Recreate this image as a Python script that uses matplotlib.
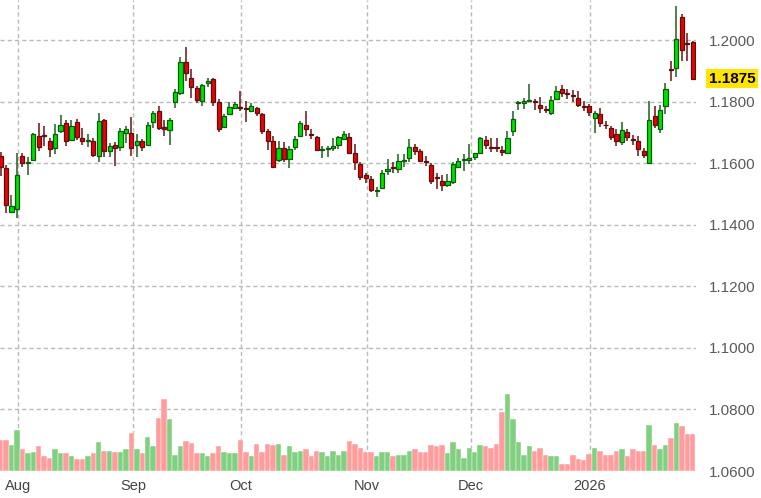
import matplotlib
matplotlib.use('Agg')
import matplotlib.pyplot as plt
import numpy as np

plt.rcParams['font.family'] = ['Liberation Sans', 'DejaVu Sans']

# daily candles (oldest first)
opens = [1.1625, 1.1585, 1.1442, 1.1452, 1.1625, 1.1600, 1.1611, 1.1690, 1.1693, 1.1671,
         1.1650, 1.1706, 1.1730, 1.1676, 1.1735, 1.1682, 1.1672, 1.1671, 1.1625, 1.1741,
         1.1639, 1.1660, 1.1652, 1.1697, 1.1697, 1.1660, 1.1671, 1.1660, 1.1733, 1.1771,
         1.1718, 1.1708, 1.1798, 1.1830, 1.1928, 1.1877, 1.1845, 1.1803, 1.1862, 1.1874,
         1.1798, 1.1719, 1.1760, 1.1780, 1.1782, 1.1780, 1.1769, 1.1780, 1.1760, 1.1706,
         1.1671, 1.1611, 1.1650, 1.1614, 1.1652, 1.1690, 1.1725, 1.1694, 1.1684, 1.1644,
         1.1645, 1.1650, 1.1660, 1.1679, 1.1686, 1.1632, 1.1598, 1.1563, 1.1549, 1.1509,
         1.1519, 1.1574, 1.1588, 1.1581, 1.1607, 1.1617, 1.1654, 1.1641, 1.1608, 1.1595,
         1.1556, 1.1543, 1.1530, 1.1538, 1.1587, 1.1610, 1.1612, 1.1619, 1.1635, 1.1676,
         1.1652, 1.1652, 1.1643, 1.1632, 1.1704, 1.1795, 1.1796, 1.1803, 1.1803, 1.1790,
         1.1775, 1.1765, 1.1809, 1.1841, 1.1829, 1.1822, 1.1813, 1.1786, 1.1786, 1.1746,
         1.1759, 1.1726, 1.1715, 1.1694, 1.1670, 1.1702, 1.1680, 1.1674, 1.1639, 1.1601,
         1.1753, 1.1713, 1.1786, 1.1906, 1.1911, 1.2076, 1.1990, 1.1993]
highs = [1.1638, 1.1595, 1.1498, 1.1632, 1.1632, 1.1619, 1.1700, 1.1730, 1.1720, 1.1682,
         1.1728, 1.1757, 1.1741, 1.1741, 1.1744, 1.1716, 1.1695, 1.1682, 1.1762, 1.1744,
         1.1667, 1.1668, 1.1716, 1.1722, 1.1749, 1.1695, 1.1679, 1.1733, 1.1769, 1.1787,
         1.1740, 1.1747, 1.1841, 1.1944, 1.1979, 1.1906, 1.1852, 1.1857, 1.1876, 1.1877,
         1.1810, 1.1761, 1.1798, 1.1798, 1.1834, 1.1803, 1.1797, 1.1782, 1.1765, 1.1711,
         1.1690, 1.1671, 1.1668, 1.1657, 1.1690, 1.1736, 1.1769, 1.1711, 1.1690, 1.1657,
         1.1655, 1.1681, 1.1690, 1.1706, 1.1700, 1.1664, 1.1603, 1.1570, 1.1560, 1.1522,
         1.1578, 1.1614, 1.1603, 1.1630, 1.1630, 1.1679, 1.1664, 1.1646, 1.1624, 1.1600,
         1.1567, 1.1562, 1.1565, 1.1603, 1.1617, 1.1630, 1.1664, 1.1635, 1.1687, 1.1690,
         1.1681, 1.1681, 1.1657, 1.1706, 1.1769, 1.1803, 1.1811, 1.1859, 1.1808, 1.1816,
         1.1787, 1.1820, 1.1852, 1.1855, 1.1841, 1.1838, 1.1835, 1.1802, 1.1793, 1.1770,
         1.1780, 1.1737, 1.1721, 1.1710, 1.1735, 1.1710, 1.1691, 1.1688, 1.1650, 1.1802,
         1.1786, 1.1789, 1.1862, 1.1933, 1.2112, 1.2085, 1.2022, 1.1998]
lows = [1.1560, 1.1437, 1.1437, 1.1423, 1.1587, 1.1563, 1.1608, 1.1641, 1.1655, 1.1619,
        1.1630, 1.1700, 1.1657, 1.1671, 1.1676, 1.1660, 1.1652, 1.1619, 1.1603, 1.1619,
        1.1619, 1.1592, 1.1641, 1.1665, 1.1625, 1.1622, 1.1639, 1.1657, 1.1715, 1.1708,
        1.1690, 1.1660, 1.1780, 1.1823, 1.1868, 1.1812, 1.1797, 1.1786, 1.1847, 1.1787,
        1.1701, 1.1716, 1.1758, 1.1777, 1.1770, 1.1733, 1.1766, 1.1753, 1.1695, 1.1643,
        1.1584, 1.1603, 1.1603, 1.1585, 1.1643, 1.1686, 1.1690, 1.1680, 1.1640, 1.1617,
        1.1619, 1.1641, 1.1645, 1.1676, 1.1630, 1.1578, 1.1545, 1.1535, 1.1506, 1.1491,
        1.1516, 1.1563, 1.1567, 1.1570, 1.1589, 1.1603, 1.1626, 1.1603, 1.1592, 1.1532,
        1.1516, 1.1510, 1.1522, 1.1532, 1.1584, 1.1576, 1.1598, 1.1612, 1.1632, 1.1647,
        1.1638, 1.1638, 1.1624, 1.1629, 1.1690, 1.1773, 1.1777, 1.1798, 1.1773, 1.1762,
        1.1762, 1.1757, 1.1806, 1.1816, 1.1809, 1.1798, 1.1783, 1.1770, 1.1753, 1.1699,
        1.1717, 1.1710, 1.1677, 1.1656, 1.1659, 1.1672, 1.1661, 1.1623, 1.1617, 1.1601,
        1.1715, 1.1699, 1.1759, 1.1866, 1.1879, 1.1931, 1.1931, 1.1875]
closes = [1.1589, 1.1465, 1.1460, 1.1563, 1.1600, 1.1605, 1.1695, 1.1652, 1.1690, 1.1646,
          1.1695, 1.1724, 1.1671, 1.1722, 1.1684, 1.1671, 1.1675, 1.1628, 1.1737, 1.1639,
          1.1657, 1.1650, 1.1706, 1.1712, 1.1650, 1.1671, 1.1654, 1.1725, 1.1765, 1.1715,
          1.1713, 1.1741, 1.1833, 1.1930, 1.1895, 1.1847, 1.1807, 1.1854, 1.1866, 1.1798,
          1.1712, 1.1755, 1.1782, 1.1793, 1.1779, 1.1778, 1.1787, 1.1762, 1.1706, 1.1671,
          1.1589, 1.1650, 1.1614, 1.1646, 1.1679, 1.1730, 1.1711, 1.1691, 1.1643, 1.1646,
          1.1650, 1.1657, 1.1684, 1.1695, 1.1632, 1.1603, 1.1556, 1.1552, 1.1513, 1.1512,
          1.1570, 1.1583, 1.1585, 1.1606, 1.1611, 1.1654, 1.1641, 1.1606, 1.1605, 1.1541,
          1.1553, 1.1530, 1.1541, 1.1598, 1.1606, 1.1614, 1.1617, 1.1632, 1.1682, 1.1660,
          1.1650, 1.1649, 1.1636, 1.1682, 1.1744, 1.1798, 1.1801, 1.1806, 1.1799, 1.1780,
          1.1773, 1.1806, 1.1836, 1.1827, 1.1826, 1.1819, 1.1790, 1.1783, 1.1768, 1.1764,
          1.1732, 1.1723, 1.1685, 1.1674, 1.1707, 1.1685, 1.1677, 1.1648, 1.1626, 1.1742,
          1.1724, 1.1772, 1.1840, 1.1903, 1.2003, 1.1968, 1.1987, 1.1875]
volumes = [94, 94, 77, 124, 65, 54, 57, 74, 44, 40, 65, 54, 54, 44, 37, 37, 44, 54, 86, 61,
           61, 57, 57, 65, 114, 65, 54, 102, 74, 160, 217, 155, 48, 74, 90, 84, 54, 54, 44, 54,
           74, 57, 54, 54, 94, 57, 44, 82, 57, 82, 77, 82, 48, 74, 57, 61, 65, 44, 61, 57,
           44, 61, 48, 61, 90, 82, 69, 57, 57, 44, 57, 57, 44, 48, 48, 61, 65, 57, 57, 77,
           74, 77, 54, 86, 65, 40, 69, 57, 77, 74, 69, 82, 177, 230, 155, 86, 48, 74, 61, 69,
           48, 44, 44, 20, 20, 48, 36, 32, 52, 68, 60, 48, 48, 61, 65, 44, 65, 61, 61, 139,
           77, 65, 77, 98, 143, 134, 111, 111]

month_pos = [3.2, 24.3, 44.1, 67.2, 86.3, 108.1]
month_labels = ['Aug', 'Sep', 'Oct', 'Nov', 'Dec', '2026']
price_ticks = [1.06, 1.08, 1.10, 1.12, 1.14, 1.16, 1.18, 1.20]
last_price = 1.1875

o = np.array(opens)
h = np.array(highs)
l = np.array(lows)
c = np.array(closes)
x = np.arange(len(o))
up = c >= o

fig = plt.figure(figsize=(7.61, 4.98), dpi=100)
ax = fig.add_axes([0, 1 - 471 / 498, 696 / 761, 471 / 498])

# volume underneath, on its own scale
ax2 = ax.twinx()
vcol = np.where(up, '#80D080', '#FF9D9D')
ax2.bar(x, volumes, width=1.0, color=vcol, edgecolor='#ffffff', linewidth=0.3)
ax2.set_ylim(0, 471 * 3)
ax2.set_yticks([])
for s in ax2.spines.values():
    s.set_visible(False)

# candles
wick_col = np.where(up, '#1E5E1E', '#641414')
ax.vlines(x, l, h, colors=wick_col, linewidth=1.1, zorder=2)
body_lo = np.minimum(o, c)
body_h = np.maximum(np.abs(c - o), 0.00003)
ax.bar(x[up], body_h[up], bottom=body_lo[up], width=0.76, color='#00E000',
       edgecolor='#0A5A0A', linewidth=0.9, zorder=3)
ax.bar(x[~up], body_h[~up], bottom=body_lo[~up], width=0.76, color='#EE0000',
       edgecolor='#5A1010', linewidth=0.9, zorder=3)

ax.set_xlim(-0.11, 127.6)
ax.set_ylim(1.06, 1.06 + 471 * 0.000325)
ax.set_yticks(price_ticks)
ax.set_yticklabels(['%.4f' % t for t in price_ticks])
ax.set_xticks(month_pos)
ax.set_xticklabels(month_labels)
ax.yaxis.tick_right()
ax.tick_params(axis='y', length=0, pad=9, labelsize=11, labelcolor='#5a5a5a')
ax.tick_params(axis='x', length=0, pad=6, labelsize=10.5, labelcolor='#444444')
ax.grid(True, color='#bababa', linestyle=(0, (3, 2.2)), linewidth=1.0)
ax.set_axisbelow(True)
for s in ax.spines.values():
    s.set_visible(False)

# last price tag
ax.annotate('%.4f' % last_price, xy=(1, last_price), xycoords=('axes fraction', 'data'),
            xytext=(9, 0), textcoords='offset points', ha='left', va='center',
            fontsize=11, fontweight='bold', color='black',
            bbox=dict(boxstyle='square,pad=0.18', fc='#FFE500', ec='none'))

fig.savefig('out.png', dpi=100)
